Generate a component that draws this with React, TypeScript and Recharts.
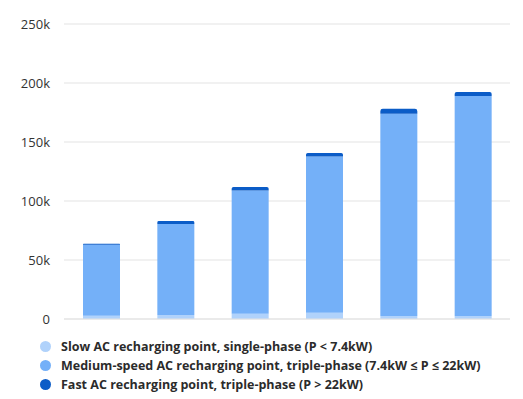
import { BarChart, Bar, XAxis, YAxis, CartesianGrid, ReferenceLine } from "recharts";

const years = ["2018", "2019", "2020", "2021", "2022", "2023"];
const slow = [2800, 3400, 4500, 5300, 2500, 2500];
const medium = [60200, 77100, 104400, 132400, 171500, 186500];
const fast = [800, 2500, 3000, 3000, 4200, 3400];
const yTicks = [0, 50000, 100000, 150000, 200000, 250000];

const series = [
  { key: "slow", name: "Slow AC recharging point, single-phase (P < 7.4kW)", color: "#b0d2fb" },
  { key: "medium", name: "Medium-speed AC recharging point, triple-phase (7.4kW ≤ P ≤ 22kW)", color: "#74b0f8" },
  { key: "fast", name: "Fast AC recharging point, triple-phase (P > 22kW)", color: "#0b5cc7" },
];

const data = years.map((year, i) => ({
  year,
  slow: slow[i],
  medium: medium[i],
  fast: fast[i],
}));

const font = "Open Sans, sans-serif";

function LegendBox() {
  return (
    <div
      style={{
        position: "absolute",
        left: 0,
        top: 337,
        fontFamily: font,
        fontSize: 12.5,
        fontWeight: 700,
        color: "#2b2b2b",
      }}
    >
      {series.map((s) => (
        <div key={s.key} style={{ display: "flex", alignItems: "center", height: 19 }}>
          <span
            style={{
              width: 11,
              height: 11,
              borderRadius: "50%",
              background: s.color,
              marginLeft: 40,
              marginRight: 10,
              flexShrink: 0,
            }}
          />
          <span style={{ whiteSpace: "nowrap" }}>{s.name}</span>
        </div>
      ))}
    </div>
  );
}

export default function App() {
  return (
    <div style={{ position: "absolute", left: 0, top: 0, width: 523, height: 399, background: "#fff" }}>
      <BarChart
        width={523}
        height={399}
        data={data}
        margin={{ top: 24, right: 13, left: 0, bottom: 50 }}
        barSize={37}
      >
        <CartesianGrid vertical={false} stroke="#e3e3e3" />
        <XAxis dataKey="year" height={30} tick={false} axisLine={false} tickLine={false} />
        <YAxis
          width={64}
          domain={[0, 250000]}
          ticks={yTicks}
          axisLine={false}
          tickLine={false}
          tickMargin={8}
          tick={{ fontSize: 13, fill: "#333", fontFamily: font }}
          tickFormatter={(v: number) => (v === 0 ? "0" : `${v / 1000}k`)}
        />
        <ReferenceLine y={0} stroke="#e3e3e3" />
        <Bar dataKey="slow" stackId="a" fill="#b0d2fb" isAnimationActive={false} />
        <Bar dataKey="medium" stackId="a" fill="#74b0f8" isAnimationActive={false} />
        <Bar dataKey="fast" stackId="a" fill="#0b5cc7" radius={[4, 4, 0, 0]} isAnimationActive={false} />
      </BarChart>
      <LegendBox />
    </div>
  );
}
